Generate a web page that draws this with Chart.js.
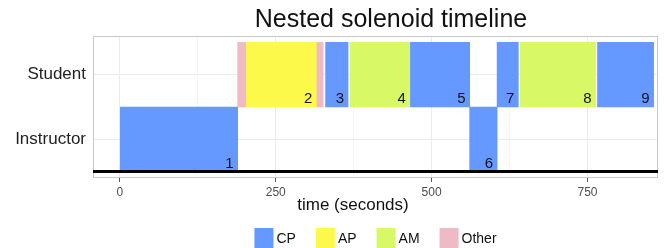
<!DOCTYPE html>
<html>
<head>
<meta charset="utf-8">
<script src="https://cdn.jsdelivr.net/npm/chart.js@4.4.1/dist/chart.umd.min.js"></script>
<style>
  html, body { margin: 0; padding: 0; background: #fff; }
  canvas { display: block; }
</style>
</head>
<body>
<canvas id="timelineChart" width="667" height="248"></canvas>
<script>
// rows on the y axis, bottom to top
const rows = ['Instructor', 'Student'];

// activity types (legend order) and their colours
const categories = ['CP', 'AP', 'AM', 'Other'];
const categoryColors = ['#6699ff', '#fdf94a', '#d9f866', '#edbac5'];

// timeline segments (seconds)
const segRow   = ['Instructor', 'Student', 'Student', 'Student', 'Student', 'Student', 'Student', 'Instructor', 'Student', 'Student', 'Student'];
const segType  = ['CP', 'Other', 'AP', 'Other', 'CP', 'AM', 'CP', 'CP', 'CP', 'AM', 'CP'];
const segStart = [0, 189, 203, 315, 330, 369, 466, 561, 605, 642, 766];
const segEnd   = [189, 203, 315, 326, 366, 465, 561, 605, 639, 763, 856];
const segLabel = ['1', '', '2', '', '3', '4', '5', '6', '7', '8', '9'];

// x axis
const xMin = -43;
const xMax = 863;
const xTicks = [0, 250, 500, 750];

const FONT = '"Liberation Sans", Arial, Helvetica, sans-serif';

// Build one floating-bar dataset per activity type
const barDatasets = categories.map((cat, c) => {
    const data = [];
    segType.forEach((t, i) => {
        if (t === cat) {
            data.push({
                x: [segStart[i], segEnd[i]],
                y: rows.indexOf(segRow[i]) + 1,
                label: segLabel[i]
            });
        }
    });
    return {
        type: 'bar',
        label: cat,
        data: data,
        backgroundColor: categoryColors[c],
        borderWidth: 0,
        grouped: false,
        barPercentage: 1,
        categoryPercentage: 1,
        order: 1
    };
});

// thick baseline under the instructor row
const baseline = {
    type: 'line',
    label: 'baseline',
    data: [{ x: xMin, y: 0.5 }, { x: xMax, y: 0.5 }],
    borderColor: '#000',
    borderWidth: 3,
    pointRadius: 0,
    order: 0
};

// Panel border
const panelFrame = {
    id: 'panelFrame',
    beforeDatasetsDraw(chart) {
        const { ctx, chartArea: a } = chart;
        ctx.save();
        ctx.strokeStyle = '#c8c8c8';
        ctx.lineWidth = 1;
        ctx.strokeRect(a.left + 0.5, a.top + 0.5, a.right - a.left - 1, a.bottom - a.top - 1);
        ctx.restore();
    }
};

// Numbers in the bottom right corner of each segment
const segmentLabels = {
    id: 'segmentLabels',
    afterDatasetsDraw(chart) {
        const ctx = chart.ctx;
        ctx.save();
        ctx.font = '15px ' + FONT;
        ctx.fillStyle = '#111';
        ctx.textAlign = 'right';
        ctx.textBaseline = 'alphabetic';
        chart.data.datasets.forEach((ds, i) => {
            if (ds.type !== 'bar') return;
            chart.getDatasetMeta(i).data.forEach((bar, j) => {
                const text = ds.data[j].label;
                if (!text) return;
                const right = Math.max(bar.x, bar.base);
                const bottom = bar.y + bar.height / 2;
                ctx.fillText(text, right - 4, bottom - 4);
            });
        });
        ctx.restore();
    }
};

// Title, x axis title and legend
const chartTexts = {
    id: 'chartTexts',
    afterDraw(chart) {
        const { ctx, chartArea: a } = chart;
        ctx.save();
        ctx.fillStyle = '#111';
        ctx.textBaseline = 'alphabetic';
        ctx.textAlign = 'center';

        ctx.font = '25px ' + FONT;
        ctx.fillText('Nested solenoid timeline', 391, 27);

        ctx.font = '17px ' + FONT;
        ctx.fillText('time (seconds)', 353, 209.5);

        // legend
        ctx.font = '14px ' + FONT;
        ctx.textAlign = 'left';
        const boxW = 19, boxH = 20, gapText = 3, gapItem = 20;
        const widths = categories.map(c => ctx.measureText(c).width);
        let total = gapItem * (categories.length - 1);
        widths.forEach(w => { total += boxW + gapText + w; });
        let x = (a.left + a.right) / 2 - total / 2;
        categories.forEach((c, i) => {
            ctx.fillStyle = categoryColors[i];
            ctx.fillRect(x, 228, boxW, boxH);
            ctx.fillStyle = '#111';
            ctx.fillText(c, x + boxW + gapText, 243);
            x += boxW + gapText + widths[i] + gapItem;
        });
        ctx.restore();
    }
};

const ctx = document.getElementById('timelineChart').getContext('2d');
new Chart(ctx, {
    data: {
        datasets: [baseline].concat(barDatasets)
    },
    options: {
        indexAxis: 'y',
        responsive: false,
        animation: false,
        layout: { padding: { top: 36, right: 9, left: 0, bottom: 0 } },
        plugins: {
            legend: { display: false },
            title: { display: false },
            tooltip: { enabled: false }
        },
        scales: {
            x: {
                type: 'linear',
                min: xMin,
                max: xMax,
                border: { display: false },
                grid: {
                    color: c => xTicks.includes(c.tick.value) ? '#ebebeb' : '#f5f5f5',
                    tickColor: c => xTicks.includes(c.tick.value) ? '#555' : 'rgba(0,0,0,0)',
                    tickLength: 4
                },
                ticks: {
                    stepSize: 125,
                    includeBounds: false,
                    autoSkip: false,
                    maxRotation: 0,
                    padding: 3,
                    color: '#4d4d4d',
                    font: { family: FONT, size: 12 },
                    callback: v => xTicks.includes(v) ? String(v) : ''
                },
                afterFit: scale => { scale.height = 70; }
            },
            y: {
                type: 'linear',
                min: 0.4,
                max: 2.6,
                offset: false,
                border: { display: false },
                grid: { color: '#ebebeb', drawTicks: false, offset: false },
                afterBuildTicks: scale => {
                    scale.ticks = rows.map((r, i) => ({ value: i + 1 }));
                },
                ticks: {
                    padding: 7,
                    color: '#222',
                    font: { family: FONT, size: 17 },
                    callback: v => rows[v - 1]
                },
                afterFit: scale => { scale.width = 93; }
            }
        }
    },
    plugins: [panelFrame, segmentLabels, chartTexts]
});
</script>
</body>
</html>
